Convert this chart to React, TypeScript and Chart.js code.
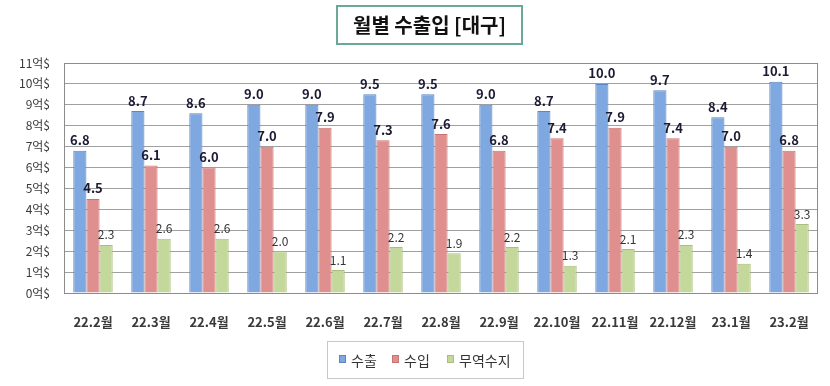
import React, { useEffect, useRef } from "react";
import { Chart, registerables } from "chart.js";

Chart.register(...registerables);

const categories = ["22.2월", "22.3월", "22.4월", "22.5월", "22.6월", "22.7월", "22.8월", "22.9월", "22.10월", "22.11월", "22.12월", "23.1월", "23.2월"];
const exportValues = [6.8, 8.7, 8.6, 9.0, 9.0, 9.5, 9.5, 9.0, 8.7, 10.0, 9.7, 8.4, 10.1];
const importValues = [4.5, 6.1, 6.0, 7.0, 7.9, 7.3, 7.6, 6.8, 7.4, 7.9, 7.4, 7.0, 6.8];
const balanceValues = [2.3, 2.6, 2.6, 2.0, 1.1, 2.2, 1.9, 2.2, 1.3, 2.1, 2.3, 1.4, 3.3];
const seriesNames = ["수출", "수입", "무역수지"];
const titleText = "월별 수출입 [대구]";
const yMax = 11;

const FONT = "'Noto Sans CJK KR', 'Noto Sans', sans-serif";
const fills = ["#7fa8e0", "#df8f8d", "#c5d89c"];
const borders = ["#5b86c4", "#c87472", "#a9bf7d"];

const decorPlugin = {
  id: "decor",
  afterDatasetsDraw(chart: any) {
    const ctx = chart.ctx;
    ctx.save();
    chart.data.datasets.forEach((ds: any, di: number) => {
      const meta = chart.getDatasetMeta(di);
      meta.data.forEach((bar: any, i: number) => {
        const v = ds.data[i];
        ctx.font = di < 2 ? `bold 13px ${FONT}` : `12px ${FONT}`;
        ctx.fillStyle = di < 2 ? "#1b1b33" : "#333333";
        ctx.textAlign = "center";
        ctx.textBaseline = "bottom";
        ctx.fillText(v.toFixed(1), bar.x, bar.y - 4);
      });
    });
    // plot border
    const a = chart.chartArea;
    ctx.strokeStyle = "#8c8c8c";
    ctx.lineWidth = 1;
    ctx.strokeRect(a.left + 0.5, a.top + 0.5, a.right - a.left - 1, a.bottom - a.top);
    // title box
    ctx.strokeStyle = "#6aa897";
    ctx.lineWidth = 2;
    ctx.strokeRect(337, 6, 185, 38);
    ctx.fillStyle = "#111111";
    ctx.font = `bold 20px ${FONT}`;
    ctx.textAlign = "center";
    ctx.textBaseline = "middle";
    ctx.fillText(titleText, 429.5, 25);
    // legend box
    ctx.strokeStyle = "#c8c8c8";
    ctx.lineWidth = 1;
    ctx.strokeRect(327.5, 341.5, 196, 37);
    const items = [339, 392, 447];
    ctx.font = `14px ${FONT}`;
    ctx.textAlign = "left";
    ctx.textBaseline = "middle";
    seriesNames.forEach((n, i) => {
      ctx.fillStyle = fills[i];
      ctx.fillRect(items[i], 355, 6, 7);
      ctx.strokeStyle = borders[i];
      ctx.strokeRect(items[i] + 0.5, 355.5, 6, 7);
      ctx.fillStyle = "#333333";
      ctx.fillText(n, items[i] + 12, 361);
    });
    ctx.restore();
  },
};

export default function App() {
  const ref = useRef<HTMLCanvasElement>(null);
  useEffect(() => {
    if (!ref.current) return;
    const datasets = [exportValues, importValues, balanceValues].map((vals, i) => ({
      label: seriesNames[i],
      data: vals,
      backgroundColor: fills[i],
      borderColor: borders[i],
      borderWidth: 1,
      categoryPercentage: 0.68,
      barPercentage: 1.0,
    }));
    const chart = new Chart(ref.current, {
      type: "bar",
      data: { labels: categories, datasets },
      options: {
        animation: false,
        responsive: false,
        maintainAspectRatio: false,
        layout: { padding: { top: 63, right: 10, bottom: 0, left: 0 } },
        plugins: { legend: { display: false }, title: { display: false }, tooltip: { enabled: false } },
        scales: {
          x: {
            grid: { display: false, drawTicks: false },
            border: { display: false },
            ticks: { color: "#3a3a3a", font: { family: FONT, size: 13, weight: "bold" }, padding: 21, maxRotation: 0, autoSkip: false },
            afterFit: (s: any) => { s.height = 93; },
          },
          y: {
            min: 0,
            max: yMax,
            grid: { color: "#a0a0a0", drawTicks: false },
            border: { display: false },
            ticks: {
              stepSize: 1,
              color: "#3a3a3a",
              padding: 14,
              font: { family: FONT, size: 12 },
              callback: (v: any) => `${v}억$`,
            },
            afterFit: (s: any) => { s.width = 64; },
          },
        },
      },
      plugins: [decorPlugin],
    });
    return () => chart.destroy();
  }, []);
  return (
    <div style={{ position: "fixed", left: 0, top: 0, width: 830, height: 386, background: "#fff" }}>
      <canvas ref={ref} width={830} height={386} style={{ width: 830, height: 386 }} />
    </div>
  );
}
